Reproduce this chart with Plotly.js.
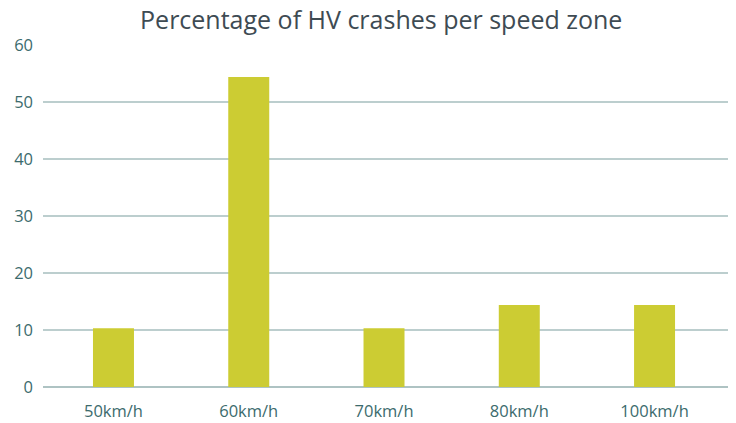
<!DOCTYPE html>
<html>
<head>
<meta charset="utf-8">
<script src="https://cdn.plot.ly/plotly-3.0.1.min.js"></script>
<style>html,body{margin:0;padding:0;background:#fff;}#chart{width:736px;height:423px;}</style>
</head>
<body>
<div id="chart"></div>
<script>
const categories = ["50km/h", "60km/h", "70km/h", "80km/h", "100km/h"];
const percentages = [10.3, 54.4, 10.3, 14.4, 14.4];
const yTicks = [0, 10, 20, 30, 40, 50, 60];

const trace = {
  type: 'bar',
  x: categories,
  y: percentages,
  marker: {color: '#cccc33'},
  hoverinfo: 'x+y'
};

const layout = {
  width: 736,
  height: 423,
  margin: {l: 43, r: 8, t: 45, b: 36},
  paper_bgcolor: '#ffffff',
  plot_bgcolor: '#ffffff',
  bargap: 0.697,
  showlegend: false,
  title: {
    text: 'Percentage of HV crashes per speed zone',
    font: {family: 'Open Sans, Noto Sans, sans-serif', size: 25, color: '#3e4b53'},
    x: 0.518, xanchor: 'center',
    y: 0.952, yanchor: 'middle'
  },
  xaxis: {
    type: 'category',
    range: [-0.521, 4.543],
    showgrid: false,
    showline: false,
    zeroline: false,
    ticks: '',
    tickfont: {family: 'Open Sans, Noto Sans, sans-serif', size: 16.5, color: '#3c6b6d'},
    ticklabelstandoff: 12
  },
  yaxis: {
    range: [0, 60],
    tickvals: yTicks,
    ticktext: yTicks.map(String),
    showgrid: true,
    gridcolor: '#bccece',
    gridwidth: 1.1,
    zeroline: true,
    zerolinecolor: '#aec3c3',
    zerolinewidth: 1.5,
    showline: false,
    ticks: '',
    tickfont: {family: 'Open Sans, Noto Sans, sans-serif', size: 16.5, color: '#3c6b6d'},
    ticklabelstandoff: 9
  }
};

Plotly.newPlot('chart', [trace], layout, {displayModeBar: false, staticPlot: true});
</script>
</body>
</html>
